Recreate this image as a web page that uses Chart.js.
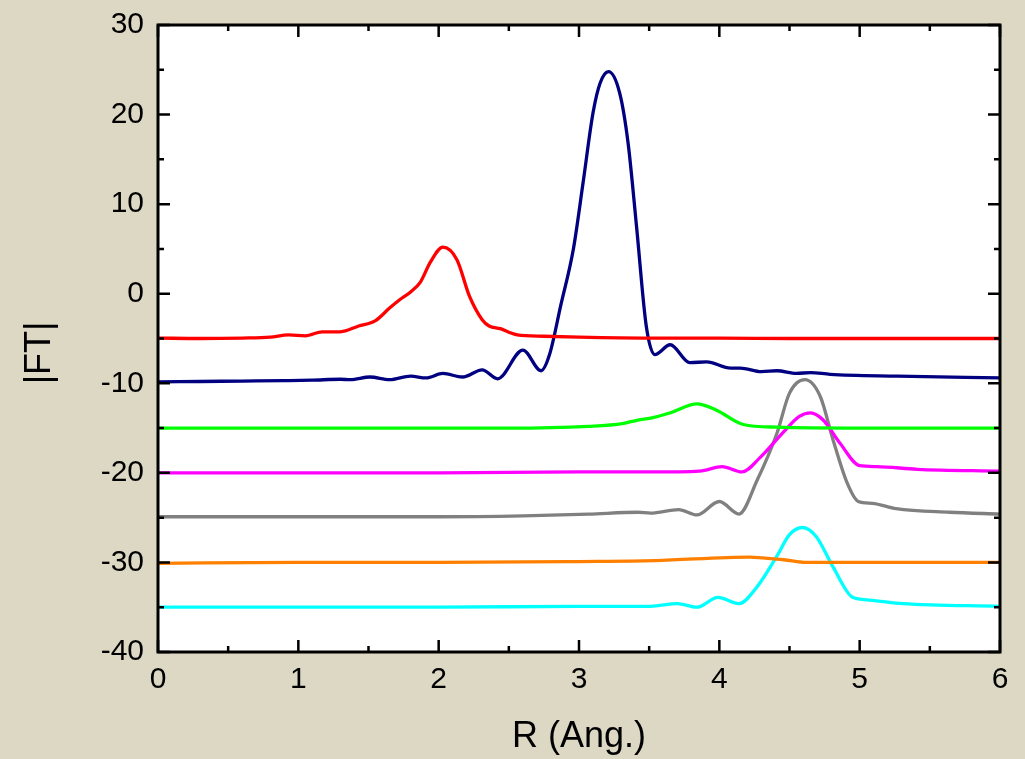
<!DOCTYPE html>
<html>
<head>
<meta charset="utf-8">
<script src="https://cdn.jsdelivr.net/npm/chart.js@4/dist/chart.umd.min.js"></script>
<style>
  html, body { margin: 0; padding: 0; background: #dcd8c4; }
  #wrap { width: 1025px; height: 759px; }
</style>
</head>
<body>
<div id="wrap"><canvas id="chart"></canvas></div>
<script>
// valores (R em Ang., |FT| já com deslocamento)
const redR = [0, 0.3, 0.6, 0.8, 0.93, 1.05, 1.17, 1.3, 1.43, 1.55, 1.65, 1.72, 1.8, 1.87, 1.94, 2.03, 2.13, 2.22, 2.31, 2.36, 2.44, 2.5, 2.56, 2.75, 3.0, 3.5, 4.0, 4.5, 5.0, 5.5, 6.0];
const redFT = [-4.95, -5.0, -4.95, -4.85, -4.6, -4.7, -4.25, -4.25, -3.6, -3.0, -1.6, -0.7, 0.2, 1.3, 3.5, 5.2, 3.8, -0.3, -2.9, -3.6, -3.9, -4.3, -4.6, -4.75, -4.85, -4.95, -4.95, -5.0, -5.0, -5.0, -5.0];

const navyR = [0, 0.3, 0.6, 0.9, 1.1, 1.3, 1.37, 1.51, 1.65, 1.8, 1.91, 2.03, 2.17, 2.31, 2.42, 2.6, 2.73, 2.79, 2.87, 2.96, 3.03, 3.10, 3.15, 3.21, 3.29, 3.35, 3.41, 3.48, 3.54, 3.65, 3.79, 3.91, 4.08, 4.15, 4.3, 4.41, 4.55, 4.65, 4.79, 5.27, 6.0];
const navyFT = [-9.85, -9.8, -9.75, -9.7, -9.65, -9.55, -9.6, -9.3, -9.6, -9.2, -9.4, -8.9, -9.3, -8.5, -9.5, -6.3, -8.6, -6.8, -1.3, 5.0, 12.5, 20.2, 23.5, 24.8, 22.4, 16.8, 7.5, -3.7, -6.8, -5.7, -7.7, -7.6, -8.3, -8.3, -8.7, -8.6, -8.9, -8.8, -9.0, -9.2, -9.4];

const greenR = [0, 0.5, 1, 1.5, 2, 2.5, 3.07, 3.31, 3.42, 3.51, 3.65, 3.84, 3.98, 4.17, 4.41, 5, 6];
const greenFT = [-15.0, -15.0, -15.0, -15.0, -15.0, -15.0, -14.8, -14.5, -14.1, -13.9, -13.3, -12.3, -13.0, -14.6, -14.9, -15.0, -15.0];

const magR = [0, 1, 2, 3, 3.51, 3.86, 4.02, 4.16, 4.29, 4.46, 4.57, 4.65, 4.74, 4.86, 5.0, 5.12, 5.41, 6];
const magFT = [-20.0, -20.0, -20.0, -19.9, -19.9, -19.8, -19.3, -19.9, -18.3, -15.4, -13.7, -13.3, -14.1, -16.7, -19.2, -19.3, -19.6, -19.8];

const grayR = [0, 1, 2, 2.6, 3.07, 3.42, 3.51, 3.71, 3.84, 4.0, 4.14, 4.27, 4.41, 4.5, 4.61, 4.72, 4.81, 4.91, 4.99, 5.09, 5.26, 5.64, 6];
const grayFT = [-24.9, -24.9, -24.9, -24.8, -24.6, -24.4, -24.5, -24.1, -24.7, -23.2, -24.6, -20.8, -15.6, -11.1, -9.6, -11.5, -16.3, -21.1, -23.2, -23.4, -24.0, -24.4, -24.6];

const orangeR = [0, 1, 2, 3, 3.54, 4.22, 4.31, 4.46, 4.62, 5, 6];
const orangeFT = [-30.1, -30.0, -30.0, -29.9, -29.8, -29.4, -29.5, -29.7, -30.0, -30.0, -30.0];

const cyanR = [0, 1, 2, 3, 3.51, 3.70, 3.84, 3.99, 4.14, 4.27, 4.41, 4.50, 4.59, 4.69, 4.81, 4.95, 5.07, 5.31, 6];
const cyanFT = [-35.0, -35.0, -35.0, -34.9, -34.9, -34.6, -35.0, -33.9, -34.6, -32.7, -29.3, -26.9, -26.1, -27.1, -30.5, -33.9, -34.2, -34.6, -34.9];

const xTicks = [0, 1, 2, 3, 4, 5, 6];
const yTicks = [-40, -30, -20, -10, 0, 10, 20, 30];

const FONT = "'Liberation Sans', Arial, sans-serif";

/*
* junta os arrays de R e |FT| em pontos {x, y}
*/
const toPoints = (xs, ys) => xs.map((x, i) => ({ x: x, y: ys[i] }));

const makeSet = (xs, ys, color) => ({
  data: toPoints(xs, ys),
  borderColor: color,
  borderWidth: 3.3,
  pointRadius: 0,
  fill: false,
  cubicInterpolationMode: 'monotone'
});

/*
* fundo bege, área branca, moldura e marcas de escala para dentro
*/
const framePlugin = {
  id: 'frame',
  beforeDraw(chart) {
    const c = chart.ctx;
    const a = chart.chartArea;
    c.save();
    c.fillStyle = '#dcd8c4';
    c.fillRect(0, 0, chart.width, chart.height);
    c.fillStyle = '#ffffff';
    c.fillRect(a.left, a.top, a.right - a.left, a.bottom - a.top);
    c.restore();
  },
  afterDraw(chart) {
    const c = chart.ctx;
    const a = chart.chartArea;
    const xs = chart.scales.x;
    const ys = chart.scales.y;
    c.save();
    c.strokeStyle = '#000';
    c.lineWidth = 3;
    c.strokeRect(a.left, a.top, a.right - a.left, a.bottom - a.top);
    c.lineWidth = 2.5;
    c.beginPath();
    for (let v = 0; v <= 12; v++) {
      const px = xs.getPixelForValue(v / 2);
      const len = v % 2 === 0 ? 12 : 6;
      c.moveTo(px, a.bottom); c.lineTo(px, a.bottom - len);
      c.moveTo(px, a.top); c.lineTo(px, a.top + len);
    }
    for (let v = -40; v <= 30; v += 5) {
      const py = ys.getPixelForValue(v);
      const len = v % 10 === 0 ? 12 : 6;
      c.moveTo(a.left, py); c.lineTo(a.left + len, py);
      c.moveTo(a.right, py); c.lineTo(a.right - len, py);
    }
    c.stroke();
    // título do eixo y
    c.fillStyle = '#000';
    c.font = '36px ' + FONT;
    c.textAlign = 'center';
    c.textBaseline = 'middle';
    c.translate(40, 353);
    c.rotate(-Math.PI / 2);
    c.fillText('|FT|', 0, 0);
    c.restore();
  }
};

const ctx = document.getElementById('chart');

new Chart(ctx, {
  type: 'line',
  data: {
    datasets: [
      makeSet(redR, redFT, '#ff0000'),
      makeSet(navyR, navyFT, '#000080'),
      makeSet(greenR, greenFT, '#00ff00'),
      makeSet(magR, magFT, '#ff00ff'),
      makeSet(grayR, grayFT, '#808080'),
      makeSet(orangeR, orangeFT, '#ff8000'),
      makeSet(cyanR, cyanFT, '#00ffff')
    ]
  },
  options: {
    responsive: true,
    maintainAspectRatio: false,
    animation: false,
    layout: { padding: { left: 0, top: 25, right: 25, bottom: 0 } },
    plugins: {
      legend: { display: false },
      tooltip: { enabled: false }
    },
    scales: {
      x: {
        type: 'linear',
        min: 0,
        max: 6,
        afterBuildTicks: s => { s.ticks = xTicks.map(v => ({ value: v })); },
        afterFit: s => { s.height = 107; s.paddingLeft = 0; s.paddingRight = 0; },
        grid: { display: false, drawTicks: false },
        border: { display: false },
        ticks: { color: '#000', font: { family: FONT, size: 30 }, padding: 10, maxRotation: 0 },
        title: { display: true, text: 'R (Ang.)', color: '#000', font: { family: FONT, size: 36 }, padding: { top: 4, bottom: 0 } }
      },
      y: {
        type: 'linear',
        min: -40,
        max: 30,
        afterBuildTicks: s => { s.ticks = yTicks.map(v => ({ value: v })); },
        afterFit: s => { s.width = 158; s.paddingTop = 0; s.paddingBottom = 0; },
        grid: { display: false, drawTicks: false },
        border: { display: false },
        ticks: { color: '#000', font: { family: FONT, size: 30 }, padding: 14 }
      }
    }
  },
  plugins: [framePlugin]
});
</script>
</body>
</html>
